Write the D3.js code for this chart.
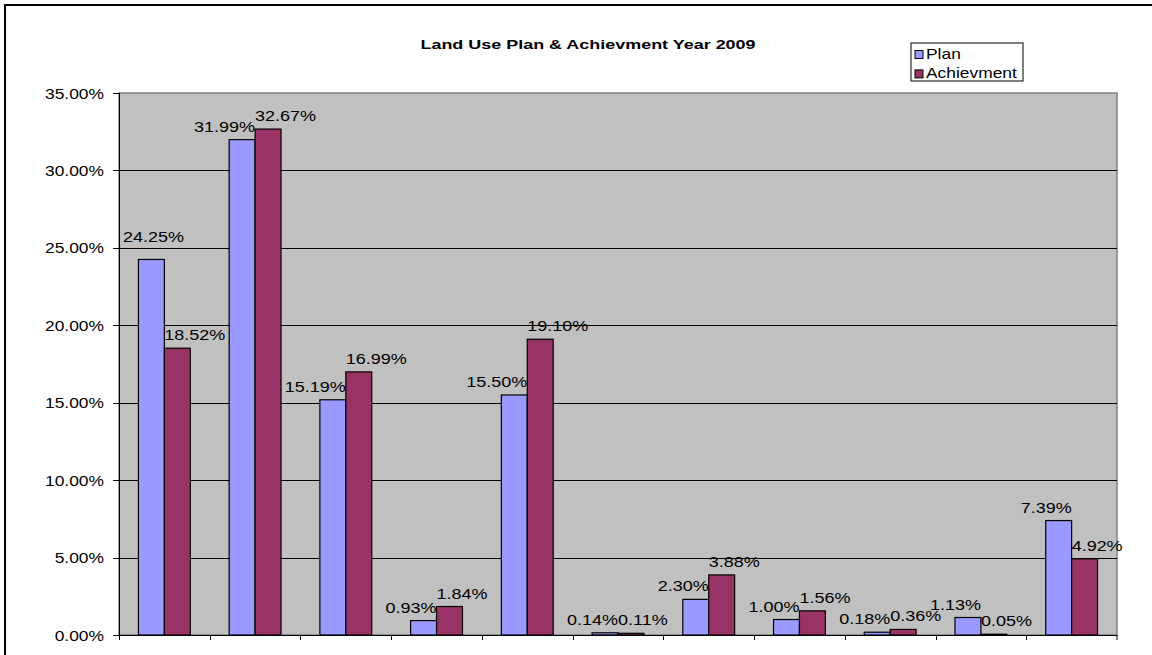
<!DOCTYPE html>
<html>
<head>
<meta charset="utf-8">
<script src="https://cdn.jsdelivr.net/npm/d3@7"></script>
<style>
  body { margin: 0; background: #fff; }
  text { font-family: "Liberation Sans", Arial, sans-serif; fill: #000; }
</style>
</head>
<body>
<div id="chart"></div>
<script>
// category names are cut off in the original picture
var categories = ['1', '2', '3', '4', '5', '6', '7', '8', '9', '10', '11'];
var planValues = [24.25, 31.99, 15.19, 0.93, 15.50, 0.14, 2.30, 1.00, 0.18, 1.13, 7.39];
var achievValues = [18.52, 32.67, 16.99, 1.84, 19.10, 0.11, 3.88, 1.56, 0.36, 0.05, 4.92];
var seriesNames = ['Plan', 'Achievment'];
var yTicks = [0, 5, 10, 15, 20, 25, 30, 35];

var width = 1152,
    height = 655,
    margin = { top: 93, right: 35, bottom: 20, left: 119 },
    plotW = width - margin.left - margin.right,
    plotH = height - margin.top - margin.bottom,
    labelSx = 1.2;

var colors = d3.scaleOrdinal()
    .domain(seriesNames)
    .range(['#9999FF', '#993366']);

var svg = d3.select('#chart').append('svg')
    .attr('width', width)
    .attr('height', height);

// outer chart frame (runs past the window on right and bottom)
svg.append('rect')
    .attr('x', 5).attr('y', 5)
    .attr('width', width + 20).attr('height', height + 20)
    .attr('fill', '#fff')
    .attr('stroke', '#000')
    .attr('stroke-width', 2);

var xScale = d3.scaleBand()
    .domain(categories)
    .range([0, plotW]);

var xInner = d3.scaleBand()
    .domain(seriesNames)
    .range([0, xScale.bandwidth()])
    .paddingOuter(0.75)
    .paddingInner(0);

var yScale = d3.scaleLinear()
    .domain([0, 35])
    .range([plotH, 0]);

var chart = svg.append('g')
    .attr('transform', 'translate(' + margin.left + ',' + margin.top + ')');

chart.append('rect')
    .attr('width', plotW)
    .attr('height', plotH)
    .attr('fill', '#C0C0C0')
    .attr('stroke', '#808080')
    .attr('stroke-width', 1.5);

// gridlines
chart.selectAll('.grid').data(yTicks.slice(1, -1))
    .enter().append('line')
    .attr('x1', 0).attr('x2', plotW)
    .attr('y1', function(d) { return Math.round(yScale(d)) + 0.5; })
    .attr('y2', function(d) { return Math.round(yScale(d)) + 0.5; })
    .attr('stroke', '#000')
    .attr('stroke-width', 1);

// the original picture is widened horizontally, so text gets an x scale
function stretched(sel, sx, x, y) {
    return sel.attr('transform', function(d, i) {
        return 'translate(' + x(d, i) + ',' + y(d, i) + ') scale(' + sx + ',1)';
    });
}

// y axis
var yAxis = chart.append('g');
yAxis.append('line')
    .attr('x1', 0.5).attr('x2', 0.5)
    .attr('y1', 0).attr('y2', plotH)
    .attr('stroke', '#000');
yAxis.selectAll('.ytick').data(yTicks)
    .enter().append('line')
    .attr('x1', -6).attr('x2', 0)
    .attr('y1', function(d) { return Math.round(yScale(d)) + 0.5; })
    .attr('y2', function(d) { return Math.round(yScale(d)) + 0.5; })
    .attr('stroke', '#000');
stretched(yAxis.selectAll('.ylab').data(yTicks)
    .enter().append('text')
    .attr('text-anchor', 'end')
    .style('font-size', '15px')
    .text(function(d) { return d.toFixed(2) + '%'; }),
    1.16,
    function() { return -15; },
    function(d) { return yScale(d) + 5.5; });

// bars
var groups = chart.selectAll('.cat').data(categories)
    .enter().append('g')
    .attr('transform', function(d) { return 'translate(' + xScale(d) + ',0)'; });

var rows = categories.map(function(c, i) {
    return [
        { series: 'Plan', value: planValues[i] },
        { series: 'Achievment', value: achievValues[i] }
    ];
});

groups.selectAll('rect').data(function(d, i) { return rows[i]; })
    .enter().append('rect')
    .attr('x', function(d) { return xInner(d.series); })
    .attr('y', function(d) { return yScale(d.value); })
    .attr('width', xInner.bandwidth())
    .attr('height', function(d) { return plotH - yScale(d.value); })
    .attr('fill', function(d) { return colors(d.series); })
    .attr('stroke', '#000')
    .attr('stroke-width', 1.2);

// data labels: plan ends at its bar's right edge, achievement starts at its bar's left edge
stretched(groups.selectAll('text').data(function(d, i) { return rows[i]; })
    .enter().append('text')
    .attr('text-anchor', function(d) { return d.series === 'Plan' ? 'end' : 'start'; })
    .style('font-size', '15px')
    .text(function(d) { return d.value.toFixed(2) + '%'; }),
    labelSx,
    function(d) { return d.series === 'Plan' ? xInner(d.series) + xInner.bandwidth() : xInner(d.series); },
    function(d) { return yScale(d.value) - 8; });

// push a plan label back inside the plot if it would cross the y axis
groups.each(function(c) {
    var g0 = xScale(c);
    d3.select(this).selectAll('text').each(function(d) {
        if (d.series !== 'Plan') return;
        var w = this.getComputedTextLength() * labelSx,
            right = xInner(d.series) + xInner.bandwidth();
        if (g0 + right - w < 4) {
            d3.select(this).attr('transform',
                'translate(' + (4 - g0 + w) + ',' + (yScale(d.value) - 17) + ') scale(' + labelSx + ',1)');
        }
    });
});

// x axis
chart.append('line')
    .attr('x1', 0).attr('x2', plotW)
    .attr('y1', plotH + 0.5).attr('y2', plotH + 0.5)
    .attr('stroke', '#000');
chart.selectAll('.xtick').data(categories.concat(['end']))
    .enter().append('line')
    .attr('x1', function(d) { return d === 'end' ? plotW : Math.round(xScale(d)) + 0.5; })
    .attr('x2', function(d) { return d === 'end' ? plotW : Math.round(xScale(d)) + 0.5; })
    .attr('y1', plotH).attr('y2', plotH + 5)
    .attr('stroke', '#000');

// title
stretched(svg.append('text').datum(0)
    .attr('text-anchor', 'middle')
    .style('font-size', '13.5px')
    .style('font-weight', 'bold')
    .text('Land Use Plan & Achievment Year 2009'),
    1.33,
    function() { return 588; },
    function() { return 49; });

// legend
var legend = svg.append('g')
    .attr('transform', 'translate(911,43)');
legend.append('rect')
    .attr('width', 112).attr('height', 38)
    .attr('fill', '#fff')
    .attr('stroke', '#000');
var items = legend.selectAll('.item').data(seriesNames)
    .enter().append('g')
    .attr('transform', function(d, i) { return 'translate(4,' + (7.5 + i * 19.4) + ')'; });
items.append('rect')
    .attr('width', 8).attr('height', 8)
    .attr('fill', function(d) { return colors(d); })
    .attr('stroke', '#000');
stretched(items.append('text')
    .style('font-size', '15px')
    .text(function(d) { return d; }),
    1.16,
    function() { return 11; },
    function() { return 8; });
</script>
</body>
</html>
